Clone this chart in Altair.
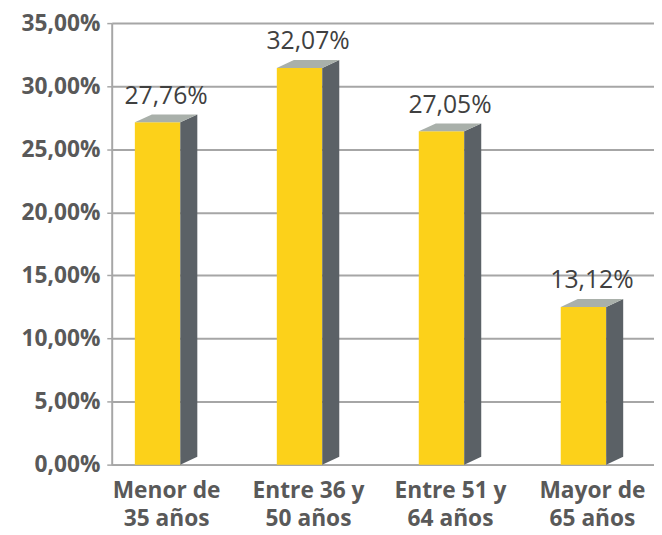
import altair as alt
import pandas as pd

categories = ["Menor de 35 años", "Entre 36 y 50 años", "Entre 51 y 64 años", "Mayor de 65 años"]
label_lines = [["Menor de", "35 años"], ["Entre 36 y", "50 años"], ["Entre 51 y", "64 años"], ["Mayor de", "65 años"]]
values = [27.76, 32.07, 27.05, 13.12]
y_ticks = [0, 5, 10, 15, 20, 25, 30, 35]

# 3D styling constants (in data units)
HALF = 0.22      # half of the full bar (front + side) width
SIDE = 0.12      # side face width
DEPTH = 0.62     # vertical rise of the depth

front_rows, side_rows, top_rows, label_rows = [], [], [], []
for i, (c, v) in enumerate(zip(categories, values)):
    x0, xr, xb = i - HALF, i + HALF - SIDE, i + HALF
    front_rows.append({"cat": c, "x": x0, "x2": xr, "y": 0, "y2": v - DEPTH})
    side_rows += [
        {"cat": c, "x": xr, "y": v - DEPTH, "y2": 0},
        {"cat": c, "x": xb, "y": v, "y2": DEPTH},
    ]
    top_rows += [
        {"cat": c, "x": x0, "y": v - DEPTH, "y2": v - DEPTH},
        {"cat": c, "x": x0 + SIDE, "y": v, "y2": v - DEPTH},
        {"cat": c, "x": xr, "y": v, "y2": v - DEPTH},
        {"cat": c, "x": xb, "y": v, "y2": v},
    ]
    label_rows.append({"cat": c, "x": i, "y": v,
                       "text": f"{v:.2f}".replace(".", ",") + "%"})

front_df = pd.DataFrame(front_rows)
side_df = pd.DataFrame(side_rows)
top_df = pd.DataFrame(top_rows)
label_df = pd.DataFrame(label_rows)

GREY = "#A6A6A6"
FONT = "Open Sans"

label_expr = "[" + ",".join("['" + a + "','" + b + "']" for a, b in label_lines) + "][datum.value]"

xscale = alt.Scale(domain=[-0.383, 3.437], nice=False, zero=False)
yscale = alt.Scale(domain=[0, 35], nice=False)

xaxis = alt.Axis(values=list(range(len(categories))), labelExpr=label_expr, title=None,
                 ticks=False, grid=False, domainColor=GREY, domainWidth=2,
                 labelFont=FONT, labelFontSize=23, labelFontWeight="bold",
                 labelColor="#595959", labelLineHeight=29, labelPadding=15)
yaxis = alt.Axis(values=y_ticks, title=None,
                 labelExpr="replace(format(datum.value, '.2f'), '.', ',') + '%'",
                 labelFont=FONT, labelFontSize=23, labelFontWeight="bold",
                 labelColor="#595959", labelPadding=7,
                 tickColor=GREY, tickSize=5, tickWidth=1.5,
                 domainColor=GREY, domainWidth=2,
                 grid=True, gridColor=GREY, gridWidth=2)

front = alt.Chart(front_df).mark_rect(color="#FCD11A").encode(
    x=alt.X("x:Q", scale=xscale, axis=xaxis),
    x2="x2:Q",
    y=alt.Y("y:Q", scale=yscale, axis=yaxis),
    y2="y2:Q",
)

side = alt.Chart(side_df).mark_area(color="#5B6166", opacity=1).encode(
    x=alt.X("x:Q", scale=xscale),
    y=alt.Y("y:Q", scale=yscale, stack=None),
    y2="y2:Q",
    detail="cat:N",
)

top = alt.Chart(top_df).mark_area(color="#A9B0AA", opacity=1).encode(
    x=alt.X("x:Q", scale=xscale),
    y=alt.Y("y:Q", scale=yscale, stack=None),
    y2="y2:Q",
    detail="cat:N",
)

labels = alt.Chart(label_df).mark_text(
    font=FONT, fontSize=25, color="#404040", baseline="bottom", dy=-6
).encode(
    x=alt.X("x:Q", scale=xscale),
    y=alt.Y("y:Q", scale=yscale),
    text="text:N",
)

chart = alt.layer(front, side, top, labels).properties(
    width=549, height=447,
    autosize=alt.AutoSizeParams(type="none"),
    padding={"left": 105, "top": 12, "right": 0, "bottom": 72},
).configure_view(stroke=None)

chart.save("out.html", embed_options={"renderer": "svg", "actions": False})
